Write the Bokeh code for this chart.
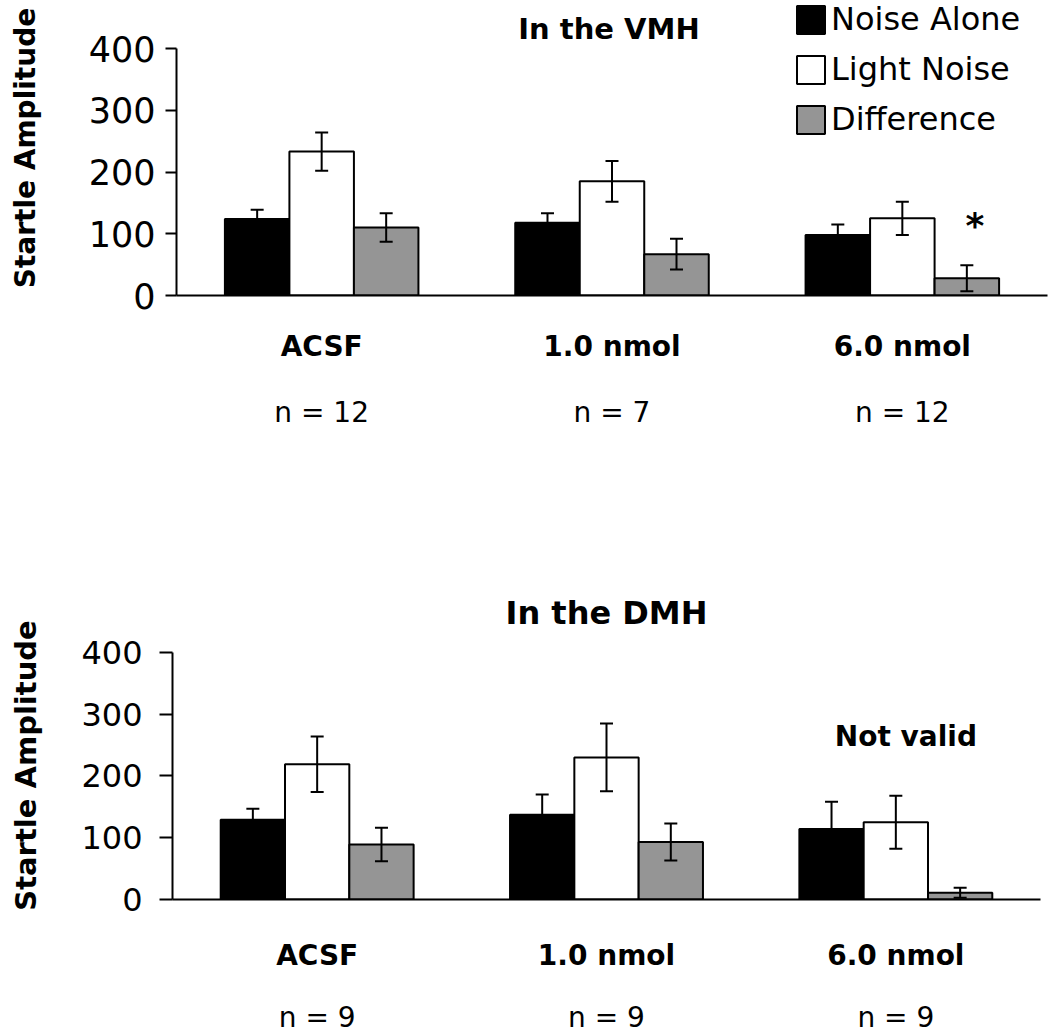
from bokeh.plotting import figure
from bokeh.models import (FactorRange, Range1d, CategoricalAxis, Whisker, TeeHead,
                          ColumnDataSource, Legend, LegendItem, FixedTicker,
                          CustomJSTickFormatter)
from bokeh.transform import dodge
from bokeh.embed import file_html
from bokeh.resources import INLINE
from bokeh.core.properties import value

# ---------------- data ----------------
conditions = ["ACSF", "1.0 nmol", "6.0 nmol"]
series = ["Noise Alone", "Light Noise", "Difference"]

vmh_noise = [124, 118, 98]
vmh_noise_err = [15, 15, 17]
vmh_light = [233, 185, 125]
vmh_light_err = [31, 33, 27]
vmh_diff = [110, 67, 28]
vmh_diff_err = [23, 25, 21]
vmh_n = ["n = 12", "n = 7", "n = 12"]

dmh_noise = [129, 137, 114]
dmh_noise_err = [18, 33, 44]
dmh_light = [219, 230, 125]
dmh_light_err = [45, 55, 43]
dmh_diff = [89, 93, 11]
dmh_diff_err = [27, 30, 8]
dmh_n = ["n = 9", "n = 9", "n = 9"]

y_ticks = [0, 100, 200, 300, 400]
colors = ["black", "white", "#959595"]
FONT = "DejaVu Sans"


def make_panel(means, errs, n_labels, height, left, right, top, bottom, ytop,
               bw, tick_font, tick_out, tick_standoff, ylabel_size,
               ylabel_standoff, cat_standoff, n_standoff):
    p = figure(width=1050, height=height,
               x_range=FactorRange(*conditions, range_padding=0),
               y_range=Range1d(0, ytop),
               output_backend="svg", toolbar_location=None,
               min_border_left=left, min_border_right=right,
               min_border_top=top, min_border_bottom=bottom)
    p.outline_line_color = None
    p.xgrid.grid_line_color = None
    p.ygrid.grid_line_color = None
    p.background_fill_color = "white"

    renderers = []
    for k, (m, e) in enumerate(zip(means, errs)):
        off = (k - 1) * bw
        src = ColumnDataSource(dict(cond=conditions, top=m,
                                    upper=[a + b for a, b in zip(m, e)],
                                    lower=[a - b for a, b in zip(m, e)]))
        r = p.vbar(x=dodge("cond", off, range=p.x_range), top="top", bottom=0,
                   width=bw, source=src, fill_color=colors[k],
                   line_color="black", line_width=2)
        renderers.append(r)
        w = Whisker(base=dodge("cond", off, range=p.x_range), upper="upper",
                    lower="lower", source=src, line_width=2, line_color="black",
                    upper_head=TeeHead(size=13, line_width=2, line_color="black"),
                    lower_head=TeeHead(size=13, line_width=2, line_color="black"),
                    level="overlay")
        p.add_layout(w)

    # y axis
    ya = p.yaxis[0]
    ya.ticker = FixedTicker(ticks=y_ticks)
    ya.bounds = (0, 400)
    ya.axis_line_width = 2
    ya.axis_line_color = "black"
    ya.major_tick_line_width = 2
    ya.major_tick_line_color = "black"
    ya.major_tick_out = tick_out
    ya.major_tick_in = 0
    ya.minor_tick_line_color = None
    ya.major_label_text_font = FONT
    ya.major_label_text_font_size = tick_font
    ya.major_label_text_color = "black"
    ya.major_label_standoff = tick_standoff
    ya.axis_label = "Startle Amplitude"
    ya.axis_label_text_font = FONT
    ya.axis_label_text_font_style = "bold"
    ya.axis_label_text_font_size = ylabel_size
    ya.axis_label_text_color = "black"
    ya.axis_label_standoff = ylabel_standoff

    # x axis (conditions)
    xa = p.xaxis[0]
    xa.axis_line_width = 2
    xa.axis_line_color = "black"
    xa.major_tick_line_color = None
    xa.major_label_text_font = FONT
    xa.major_label_text_font_style = "bold"
    xa.major_label_text_font_size = "28px"
    xa.major_label_text_color = "black"
    xa.major_label_standoff = cat_standoff

    # second axis with n counts
    fmt = CustomJSTickFormatter(args=dict(keys=conditions, vals=n_labels),
                                code="return vals[keys.indexOf(tick)];")
    na = CategoricalAxis(formatter=fmt,
                         axis_line_color=None, major_tick_line_color=None,
                         major_label_text_font=FONT,
                         major_label_text_font_size="28px",
                         major_label_text_color="black",
                         major_label_standoff=n_standoff)
    p.add_layout(na, "below")
    return p, renderers


# -------- top panel: VMH --------
bw1 = 64.5 / 290.3
p1, r1 = make_panel([vmh_noise, vmh_light, vmh_diff],
                    [vmh_noise_err, vmh_light_err, vmh_diff_err],
                    vmh_n, height=500, left=176, right=3, top=0,
                    bottom=205, ytop=295 / 0.6175, bw=bw1, tick_font="35px",
                    tick_out=11, tick_standoff=10, ylabel_size="28px",
                    ylabel_standoff=44, cat_standoff=28, n_standoff=24)

p1.text(x=["1.0 nmol"], y=[431], text=["In the VMH"], x_offset=-3,
        text_font=value(FONT), text_font_style="bold",
        text_font_size="29px", text_align="center",
        text_baseline="alphabetic", text_color="black")

star_src = ColumnDataSource(dict(cond=["6.0 nmol"], y=[113], t=["*"]))
p1.text(x=dodge("cond", bw1, range=p1.x_range), y="y", text="t", source=star_src,
        x_offset=8, text_font=value(FONT), text_font_style="bold",
        text_font_size="36px", text_align="center", text_baseline="alphabetic",
        text_color="black")

legend = Legend(items=[LegendItem(label=s, renderers=[r]) for s, r in zip(series, r1)],
                location=(617, 157), label_text_font=FONT,
                label_text_font_size="32px", label_text_color="black",
                glyph_width=35, glyph_height=35, label_height=28,
                label_standoff=3, spacing=12, padding=0,
                margin=0, border_line_color=None, background_fill_alpha=0)
p1.add_layout(legend)

# -------- bottom panel: DMH --------
bw2 = 64.3 / 289.3
p2, r2 = make_panel([dmh_noise, dmh_light, dmh_diff],
                    [dmh_noise_err, dmh_light_err, dmh_diff_err],
                    dmh_n, height=536, left=172, right=10, top=131,
                    bottom=135, ytop=270 / 0.6225, bw=bw2, tick_font="32px",
                    tick_out=13, tick_standoff=17, ylabel_size="29px",
                    ylabel_standoff=35, cat_standoff=33, n_standoff=20)

p2.title.text = "In the DMH"
p2.title.align = "center"
p2.title.text_font = FONT
p2.title.text_font_style = "bold"
p2.title.text_font_size = "32px"
p2.title.text_color = "black"
p2.title.standoff = 0

p2.text(x=["6.0 nmol"], y=[263], text=["Not valid"], x_offset=10,
        text_font=value(FONT), text_font_style="bold", text_font_size="28px",
        text_align="center", text_baseline="alphabetic", text_color="black")

# two independent roots so that their frames are not aligned to each other
open("out.html", "w").write(file_html([p1, p2], INLINE))
